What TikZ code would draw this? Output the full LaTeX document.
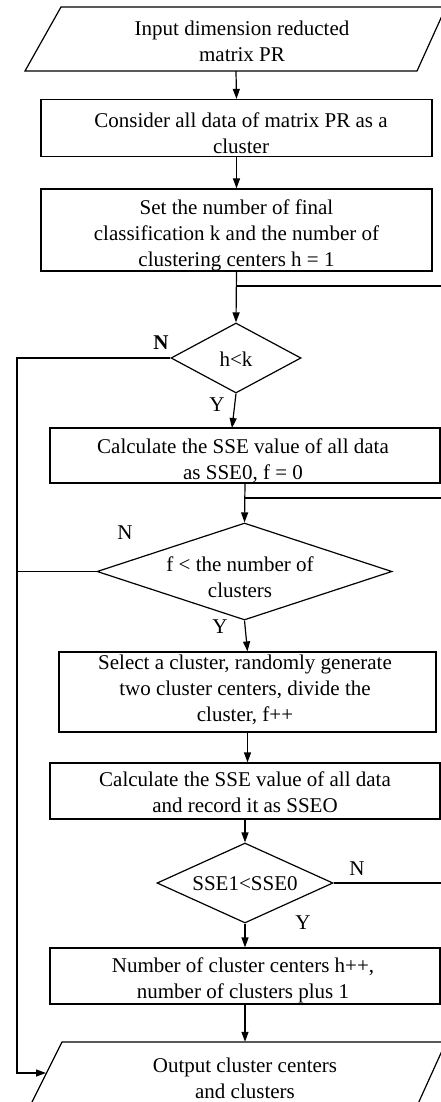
\documentclass[tikz,border=0pt]{standalone}
\usepackage{fontspec}
\setmainfont{Liberation Serif}
\usetikzlibrary{shapes.geometric,arrows.meta,calc}
\newcommand{\flowfont}{\fontsize{21}{26}\selectfont}
\begin{document}
\begin{tikzpicture}[x=1pt,y=-1pt,
  every node/.style={font=\flowfont},
  box/.style={draw, line width=1.2pt, inner sep=0pt},
  dec/.style={diamond, draw, line width=1.2pt, inner sep=0pt},
  txt/.style={align=center, inner sep=0pt},
  io/.style={inner sep=0pt, minimum width=300pt, minimum height=64pt},
  lbl/.style={inner sep=0pt},
  arr/.style={-{Triangle[length=10pt,width=7pt]}, line width=1.2pt},
  ln/.style={line width=1.2pt}]
\useasboundingbox (0,0) rectangle (441,1102);
\clip (0,0) rectangle (441,1102);

% input parallelogram
\draw[ln] (61,7) -- (446,7) -- (417,71) -- (25,71) -- cycle;
\node[io] (in) at (236,39) {};
\node[txt] (int) at (242,41) {Input dimension reducted\\matrix PR};

% process boxes (frames, then their text)
\node[box, minimum width=391pt, minimum height=57pt] (b1) at (236.5,128) {};
\node[txt] (b1t) at (241,133) {Consider all data of matrix PR as a\\cluster};
\node[box, minimum width=391pt, minimum height=82pt] (b2) at (236.5,230) {};
\node[txt] (b2t) at (236.5,235) {Set the number of final\\classification k and the number of\\clustering centers h = 1};

% decision h<k
\node[dec, minimum width=130pt, minimum height=70pt] (d1) at (236,358) {};
\node[txt] (t1) at (236,359) {h<k};

\node[box, minimum width=390pt, minimum height=55pt] (b3) at (245,455.5) {};
\node[txt] (b3t) at (243,460.5) {Calculate the SSE value of all data\\as SSE0, f = 0};

% decision on f
\node[dec, minimum width=295pt, minimum height=97pt] (d2) at (244.5,571.5) {};
\node[txt] (t2) at (240,577) {f < the number of\\clusters};

\node[box, minimum width=377pt, minimum height=80pt] (b4) at (247.5,692) {};
\node[txt] (b4t) at (245,690) {Select a cluster, randomly generate\\two cluster centers, divide the\\cluster, f++};
\node[box, minimum width=390pt, minimum height=56pt] (b5) at (245,791) {};
\node[txt] (b5t) at (245,792) {Calculate the SSE value of all data\\and record it as SSEO};

% decision on SSE
\node[dec, minimum width=176pt, minimum height=80pt] (d3) at (245,883) {};
\node[txt] (t3) at (245,884) {SSE1<SSE0};

\node[box, minimum width=390pt, minimum height=56pt] (b6) at (245,976) {};
\node[txt] (b6t) at (243,980) {Number of cluster centers h++,\\number of clusters plus 1};

% output parallelogram
\draw[ln] (62,1042) -- (446,1042) -- (417,1106) -- (30,1106) -- cycle;
\node[io] (out) at (245,1074) {};
\node[txt] (outt) at (245,1078) {Output cluster centers\\and clusters};

% branch labels
\node[lbl, font=\flowfont\bfseries] (n1) at (161,343) {N};
\node[lbl] (y1) at (217,405) {Y};
\node[lbl] (n2) at (125,533) {N};
\node[lbl] (y2) at (220,627) {Y};
\node[lbl] (n3) at (357,869) {N};
\node[lbl] (y3) at (303,923) {Y};

% free ends and bends
\coordinate (r1) at (441,286);
\coordinate (r2) at (441,498);
\coordinate (r3) at (441,883);
\coordinate (lft) at (17,1073);
\coordinate (outw) at (46,1073);
\coordinate (b3in) at (232,428);

% main flow
\draw[arr] (in.south) -- (b1.north);
\draw[arr] (b1.south) -- (b2.north);
\draw[arr] (b2.south) -- (d1.north);
\draw[arr] (d1.south) -- (b3in);
\draw[arr] (b3.south) -- (d2.north);
\draw[arr] (d2.south) -- (b4.north);
\draw[arr] (b4.south) -- (b4.south |- b5.north);
\draw[arr] (b5.south) -- (d3.north);
\draw[arr] (d3.south) -- (b6.north);
\draw[arr] (b6.south) -- (b6.south |- out.north);

% loop returns from the right
\draw[ln] (r1) -- (r1 -| d1.north);
\draw[ln] (r2) -- (r2 -| d2.north);
\draw[ln] (d3.east) -- (r3);

% exits on the left
\draw[arr] (d1.west) -| (lft) -- (outw);
\draw[ln] (d2.west) -- (d2.west -| lft);
\end{tikzpicture}
\end{document}
